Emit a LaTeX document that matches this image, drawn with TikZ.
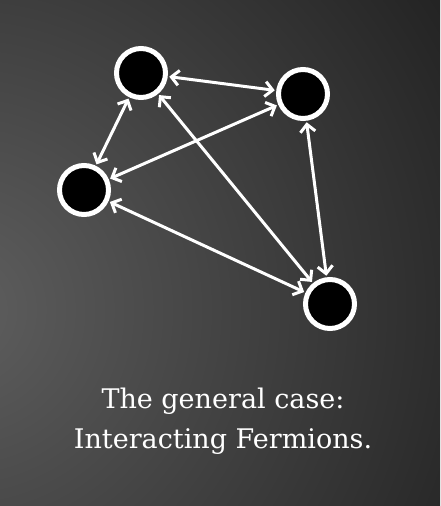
\documentclass[tikz,border=0pt]{standalone}
\usepackage{fontspec}
\setmainfont{DejaVu Serif}
\usetikzlibrary{arrows.meta}
\begin{document}
\begin{tikzpicture}[x=1pt,y=-1pt,
  fermion/.style={circle,draw=white,line width=5pt,fill=black,minimum size=49pt,inner sep=0pt},
  link/.style={white,line width=3pt,{Straight Barb[length=7.5pt,width=15pt]}-{Straight Barb[length=7.5pt,width=15pt]},shorten <=1.5pt,shorten >=1.5pt}]
\useasboundingbox (0,0) rectangle (440,506);
\begin{scope}
\clip (0,0) rectangle (440,506);
\fill[black!88] (0,0) rectangle (440,506);
\shade[inner color=black!63,outer color=black!88] (-40,310) circle (620pt);
\end{scope}
\node[fermion] (f1) at (141,73) {};
\node[fermion] (f2) at (303,94) {};
\node[fermion] (f3) at (84,190) {};
\node[fermion] (f4) at (330,304) {};
\draw[link] (f1)--(f2);
\draw[link] (f1)--(f3);
\draw[link] (f2)--(f3);
\draw[link] (f1)--(f4);
\draw[link] (f2)--(f4);
\draw[link] (f3)--(f4);
\node[white,align=center,font=\fontsize{27}{40}\selectfont] (caption) at (223,421) {The general case:\\Interacting Fermions.};
\end{tikzpicture}
\end{document}
